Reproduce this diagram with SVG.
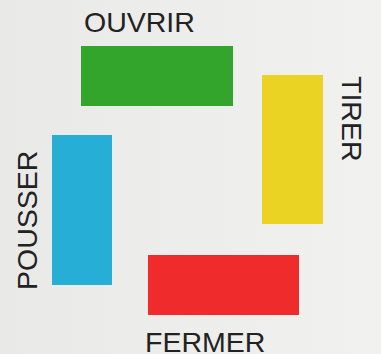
<svg xmlns="http://www.w3.org/2000/svg" width="381" height="354" viewBox="0 0 381 354">
<style>
.lbl{font-family:"Liberation Sans",Arial,sans-serif;font-size:28.5px;fill:#222;}
</style>
<defs>
<linearGradient id="bg" x1="0" y1="0" x2="1" y2="0">
<stop offset="0" stop-color="#e9e9e7"/>
<stop offset="1" stop-color="#f1f1ef"/>
</linearGradient>
</defs>
<rect width="381" height="354" fill="url(#bg)"/>
<g id="connectors"></g>
<g id="ouvrir">
<rect x="81" y="46" width="152" height="60" fill="#33a52c"/>
<text class="lbl" x="84" y="32">OUVRIR</text>
</g>
<g id="tirer">
<rect x="262" y="75" width="61" height="149" fill="#ebd324"/>
<text class="lbl" transform="translate(342,76) rotate(90)">TIRER</text>
</g>
<g id="pousser">
<rect x="52" y="135" width="60" height="150" fill="#27aed7"/>
<text class="lbl" transform="translate(37,290) rotate(-90)">POUSSER</text>
</g>
<g id="fermer">
<rect x="148" y="255" width="151" height="60" fill="#ef2b2b"/>
<text class="lbl" x="145" y="352">FERMER</text>
</g>
</svg>
